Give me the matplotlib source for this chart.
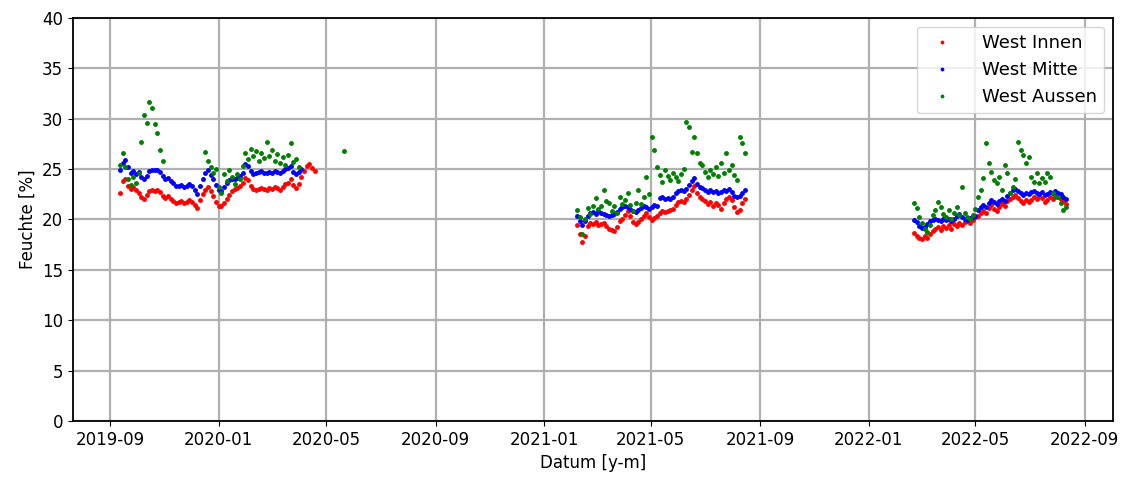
import numpy as np
import pandas as pd
import matplotlib
matplotlib.use("Agg")
import matplotlib.pyplot as plt
import matplotlib.dates as mdates

nan = np.nan

# three measuring periods, one reading every 3 days
start_1 = "2019-09-12"
start_2 = "2021-02-07"
start_3 = "2022-02-21"
step = "3D"

innen_1 = [22.6, 23.8, 24.0, 23.3, 23.0, 23.2, 22.9, 22.6, 22.2, 22.0,
           22.4, 22.8, 22.9, 22.8, 22.9, 22.7, 22.3, 22.1, 22.3, 22.0,
           21.8, 21.6, 21.7, 21.8, 21.6, 21.7, 21.9, 21.7, 21.4, 21.1,
           21.9, 22.5, 22.9, 23.2, 22.8, 22.3, 21.7, 21.3, 21.3, 21.6,
           22.0, 22.4, 22.8, 23.0, 23.1, 23.3, 23.6, 24.1, 23.9, 23.3,
           23.0, 22.9, 23.0, 23.1, 23.0, 22.9, 23.1, 23.0, 23.2, 23.1,
           22.9, 23.2, 23.5, 23.6, 24.0, 23.4, 23.1, 23.5, 24.2, 24.8,
           25.3, 25.5, 25.1, 24.8]
mitte_1 = [24.9, 25.6, 25.9, 25.2, 24.6, 24.8, 24.5, 24.7, 24.2, 24.0,
           24.3, 24.8, 24.9, 24.9, 24.9, 24.7, 24.3, 24.0, 24.1, 23.8,
           23.6, 23.3, 23.3, 23.4, 23.2, 23.3, 23.5, 23.3, 22.9, 22.5,
           23.3, 24.0, 24.6, 24.9, 24.4, 24.0, 23.4, 22.9, 22.8, 23.2,
           23.6, 23.9, 24.0, 24.0, 24.1, 24.3, 24.6, 25.5, 25.3, 24.8,
           24.5, 24.6, 24.7, 24.8, 24.6, 24.6, 24.7, 24.6, 24.8, 24.7,
           24.6, 24.8, 25.0, 25.1, 25.3, 24.7, 24.5, 24.7, 25.0, nan,
           nan, nan, nan, nan]
aussen_1 = [25.4, 26.6, 25.2, 24.0, 23.4, 24.2, 23.6, 24.6, 27.7, 30.4,
            29.6, 31.6, 31.0, 29.5, 28.6, 26.9, 25.8, nan, nan, nan,
            nan, nan, nan, nan, nan, nan, nan, nan, nan, nan,
            nan, nan, 26.7, 25.8, 25.2, 24.6, 25.0, 23.2, 22.6, 24.5,
            23.8, 24.9, 24.2, 23.5, 24.5, 24.0, 25.3, 26.6, 26.0, 27.0,
            26.3, 26.8, 25.8, 26.6, 26.1, 27.7, 26.3, 26.9, 25.8, 26.5,
            25.6, 26.2, 25.4, 26.4, 27.6, 25.7, 26.0, 25.2, nan, nan,
            nan, nan, nan, nan]

# single later reading of the outer sensor
extra_date = "2020-05-21"
extra_aussen = 26.8

innen_2 = [19.4, 18.5, 17.8, 18.3, 19.3, 19.6, 19.5, 19.7, 19.4, 19.5,
           19.6, 19.3, 19.0, 18.9, 18.8, 19.2, 19.8, 20.0, 20.4, 20.8,
           20.3, 19.7, 19.5, 19.7, 20.0, 20.3, 20.6, 20.2, 19.9, 20.1,
           20.3, 20.6, 20.8, 20.7, 20.8, 20.9, 21.0, 21.4, 21.7, 21.8,
           21.7, 22.0, 22.4, 22.9, 23.3, 22.6, 22.2, 22.0, 21.8, 21.5,
           21.7, 21.3, 21.6, 21.4, 21.0, 21.6, 22.0, 22.2, 21.9, 21.2,
           20.7, 20.9, 21.6, 22.0]
mitte_2 = [20.3, 19.8, 19.4, 19.8, 20.3, 20.6, 20.7, 20.5, 20.8, 20.6,
           20.5, 20.4, 20.3, 20.4, 20.5, 20.7, 21.0, 21.2, 21.3, 21.2,
           21.0, 20.8, 20.7, 20.9, 21.1, 21.3, 21.2, 21.0, 21.2, 21.4,
           21.3, 22.1, 22.2, 22.0, 22.1, 22.0, 22.2, 22.6, 22.8, 22.9,
           22.8, 23.0, 23.4, 23.8, 24.1, 23.5, 23.2, 23.1, 22.9, 22.7,
           22.9, 22.7, 22.8, 22.6, 22.7, 22.9, 22.8, 23.0, 22.7, 22.3,
           22.2, 22.3, 22.6, 22.9]
aussen_2 = [20.9, 20.2, 18.5, 20.0, 21.1, 20.5, 21.3, 22.1, 21.0, 21.3,
            22.9, 21.8, 21.6, 20.8, 21.3, 20.6, 22.2, 21.5, 21.9, 22.6,
            21.4, 20.8, 21.6, 22.9, 21.5, 22.2, 24.2, 22.5, 28.2, 26.9,
            25.2, 24.4, 23.7, 24.9, 24.3, 23.9, 24.6, 24.2, 23.8, 24.5,
            25.0, 29.7, 29.2, 26.7, 28.2, 26.6, 25.6, 25.4, 24.7, 24.2,
            24.9, 24.5, 25.2, 24.3, 25.6, 24.6, 26.6, 24.9, 25.4, 24.4,
            23.9, 28.2, 27.6, 26.6]

innen_3 = [18.6, 18.3, 18.2, 18.1, 18.3, 18.2, 18.5, 18.8, 19.0, 19.2,
           18.9, 19.3, 19.1, 19.4, 19.0, 19.5, 19.3, 19.6, 19.4, 19.7,
           19.8, 19.6, 19.9, 20.2, 20.3, 20.6, 20.8, 20.6, 21.1, 21.4,
           21.0, 20.8, 21.2, 21.5, 21.3, 21.8, 22.0, 22.2, 22.4, 22.1,
           21.8, 21.6, 21.9, 21.7, 21.9, 22.2, 22.0, 22.3, 22.1, 21.7,
           21.9, 22.2, 22.0, 22.4, 22.2, 22.0, 21.8, 21.5]
mitte_3 = [19.9, 19.7, 19.3, 19.1, 19.2, 19.5, 19.8, 19.9, 20.0, 19.9,
           19.8, 20.0, 19.9, 20.0, 19.8, 20.0, 20.3, 20.5, 20.2, 20.0,
           19.9, 20.1, 20.2, 20.3, 20.9, 21.2, 21.4, 21.2, 21.6, 21.9,
           21.7, 21.5, 21.8, 22.0, 21.8, 22.3, 22.6, 22.9, 23.0, 22.8,
           22.6, 22.4, 22.6, 22.5, 22.7, 22.8, 22.6, 22.5, 22.7, 22.4,
           22.5, 22.7, 22.6, 22.8, 22.6, 22.5, 22.2, 22.0]
aussen_3 = [21.6, 21.1, 20.2, 19.6, 19.0, 18.7, 19.4, 20.4, 20.9, 21.7,
            21.2, 20.5, 20.2, 20.9, 20.0, 20.6, 21.2, 20.4, 23.2, 20.6,
            20.2, 20.0, 20.4, 21.0, 22.2, 22.9, 24.1, 27.6, 25.6, 24.7,
            23.9, 23.6, 24.2, 22.9, 25.4, 24.6, 22.6, 23.2, 24.0, 27.7,
            26.9, 26.4, 25.6, 26.2, 24.2, 23.7, 24.6, 23.6, 24.1, 23.7,
            24.6, 24.2, 22.6, 22.2, 22.2, 21.6, 20.9, 21.2]


def build(starts, parts):
    dates, vals = [], []
    for s, p in zip(starts, parts):
        dates.extend(pd.date_range(s, periods=len(p), freq=step))
        vals.extend(p)
    return pd.Series(vals, index=pd.DatetimeIndex(dates))


starts = [start_1, start_2, start_3]
innen = build(starts, [innen_1, innen_2, innen_3])
mitte = build(starts, [mitte_1, mitte_2, mitte_3])
aussen = build(starts, [aussen_1, aussen_2, aussen_3])
aussen = pd.concat([aussen, pd.Series([extra_aussen],
                                      index=pd.DatetimeIndex([extra_date]))])
aussen = aussen.sort_index()

fig = plt.figure(figsize=(11.37, 4.8), dpi=100)
ax = fig.add_axes([0.064, 0.123, 0.915, 0.84])

ms = 5
ax.plot(innen.index, innen.values, '.', color='red', markersize=ms,
        label='West Innen')
ax.plot(mitte.index, mitte.values, '.', color='blue', markersize=ms,
        label='West Mitte')
ax.plot(aussen.index, aussen.values, '.', color='green', markersize=ms,
        label='West Aussen')

ax.set_ylim(0, 40)
ax.set_yticks(np.arange(0, 41, 5))
ax.xaxis.set_major_locator(mdates.MonthLocator(bymonth=[1, 5, 9]))
ax.xaxis.set_major_formatter(mdates.DateFormatter('%Y-%m'))
ax.grid(True, color='#b0b0b0', linewidth=1.6)
ax.set_axisbelow(True)
ax.tick_params(labelsize=12)
ax.set_xlabel('Datum [y-m]', fontsize=12)
ax.set_ylabel('Feuchte [%]', fontsize=12)
for sp in ax.spines.values():
    sp.set_linewidth(1.3)

ax.legend(loc='upper right', fontsize=13, markerscale=0.7,
          handletextpad=1.2)

fig.savefig('out.png', dpi=100)
